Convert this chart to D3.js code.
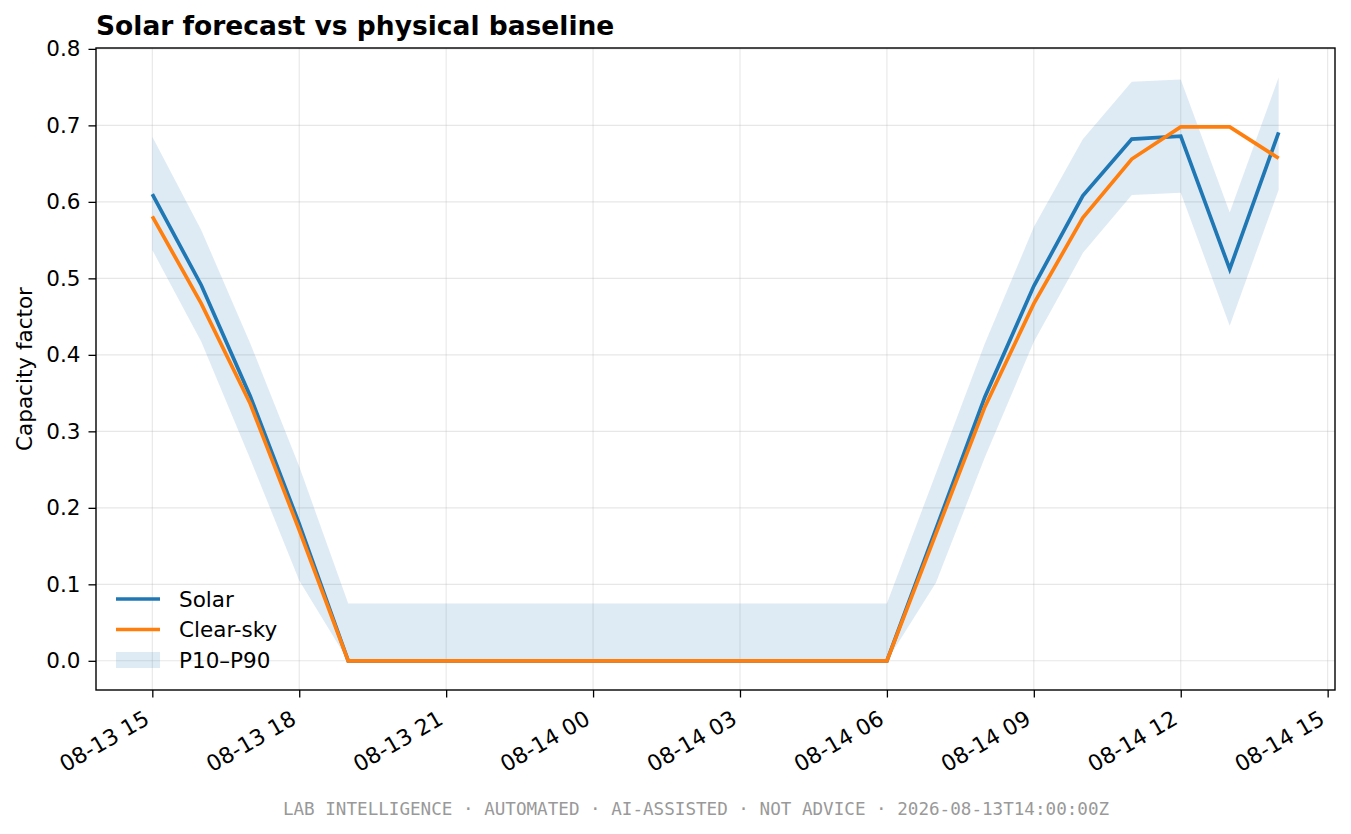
<!DOCTYPE html>
<html>
  <head>
    <meta charset="utf-8">
    <title>Solar forecast vs physical baseline</title>
    <style>
      body {
        margin: 0;
        padding: 0;
        background: #fff;
        font-family: 'DejaVu Sans', sans-serif;
      }
      #chart {
        width: 1351px;
        height: 834px;
      }
    </style>
  </head>
  <body>
    <div id="chart"></div>

    <script src="https://cdnjs.cloudflare.com/ajax/libs/d3/7.8.5/d3.min.js"></script>
    <script>
      // hourly timestamps, 2026-08-13 15:00 to 2026-08-14 14:00 (UTC)
      const hours = [
        "2026-08-13T15:00Z", "2026-08-13T16:00Z", "2026-08-13T17:00Z", "2026-08-13T18:00Z",
        "2026-08-13T19:00Z", "2026-08-13T20:00Z", "2026-08-13T21:00Z", "2026-08-13T22:00Z",
        "2026-08-13T23:00Z", "2026-08-14T00:00Z", "2026-08-14T01:00Z", "2026-08-14T02:00Z",
        "2026-08-14T03:00Z", "2026-08-14T04:00Z", "2026-08-14T05:00Z", "2026-08-14T06:00Z",
        "2026-08-14T07:00Z", "2026-08-14T08:00Z", "2026-08-14T09:00Z", "2026-08-14T10:00Z",
        "2026-08-14T11:00Z", "2026-08-14T12:00Z", "2026-08-14T13:00Z", "2026-08-14T14:00Z"
      ];

      const solar = [
        0.610, 0.491, 0.346, 0.179, 0, 0, 0, 0, 0, 0, 0, 0,
        0, 0, 0, 0, 0.172, 0.345, 0.490, 0.608, 0.682, 0.686, 0.512, 0.691
      ];

      const clearSky = [
        0.581, 0.467, 0.336, 0.171, 0, 0, 0, 0, 0, 0, 0, 0,
        0, 0, 0, 0, 0.166, 0.332, 0.467, 0.579, 0.656, 0.698, 0.698, 0.657
      ];

      const p10 = [
        0.537, 0.417, 0.264, 0.105, 0, 0, 0, 0, 0, 0, 0, 0,
        0, 0, 0, 0, 0.102, 0.266, 0.417, 0.533, 0.609, 0.612, 0.438, 0.616
      ];

      const p90 = [
        0.685, 0.563, 0.415, 0.254, 0.075, 0.075, 0.075, 0.075, 0.075, 0.075, 0.075, 0.075,
        0.075, 0.075, 0.075, 0.075, 0.245, 0.415, 0.567, 0.682, 0.757, 0.760, 0.586, 0.763
      ];

      const yTicks = [0.0, 0.1, 0.2, 0.3, 0.4, 0.5, 0.6, 0.7, 0.8];

      const title = "Solar forecast vs physical baseline";
      const yLabel = "Capacity factor";
      const footer = "LAB INTELLIGENCE · AUTOMATED · AI-ASSISTED · NOT ADVICE · 2026-08-13T14:00:00Z";

      const W = 1351, H = 834;
      const margin = {left: 96, right: 16, top: 48, bottom: 144};
      const fontSize = 21.5;

      const rows = hours.map((h, i) => ({
        t: new Date(h),
        solar: solar[i],
        clear: clearSky[i],
        lo: p10[i],
        hi: p90[i]
      }));

      const svg = d3.select('#chart')
        .append('svg')
        .attr('width', W)
        .attr('height', H);

      // matplotlib-like 5% margins around the data
      const tExt = d3.extent(rows, d => d.t);
      const tPad = (tExt[1] - tExt[0]) * 0.05;
      const x = d3.scaleUtc()
        .domain([new Date(+tExt[0] - tPad), new Date(+tExt[1] + tPad)])
        .range([margin.left, W - margin.right]);

      const yMin = d3.min(rows, d => Math.min(d.lo, d.solar, d.clear));
      const yMax = d3.max(rows, d => Math.max(d.hi, d.solar, d.clear));
      const yPad = (yMax - yMin) * 0.05;
      const y = d3.scaleLinear()
        .domain([yMin - yPad, yMax + yPad])
        .range([H - margin.bottom, margin.top]);

      const xTicks = d3.utcHour.every(3).range(new Date("2026-08-13T15:00Z"), new Date("2026-08-14T15:01Z"));

      // grid
      const grid = svg.append('g').attr('stroke', '#b0b0b0').attr('stroke-opacity', 0.3).attr('stroke-width', 1.1);
      grid.selectAll('.gx').data(xTicks).enter().append('line')
        .attr('x1', d => x(d)).attr('x2', d => x(d))
        .attr('y1', margin.top).attr('y2', H - margin.bottom);
      grid.selectAll('.gy').data(yTicks).enter().append('line')
        .attr('x1', margin.left).attr('x2', W - margin.right)
        .attr('y1', d => y(d)).attr('y2', d => y(d));

      // P10-P90 band
      const area = d3.area()
        .x(d => x(d.t))
        .y0(d => y(d.lo))
        .y1(d => y(d.hi));

      svg.append('path')
        .datum(rows)
        .attr('d', area)
        .attr('fill', '#1f77b4')
        .attr('fill-opacity', 0.15);

      const line = key => d3.line().x(d => x(d.t)).y(d => y(d[key]));

      svg.append('path')
        .datum(rows)
        .attr('d', line('solar'))
        .attr('fill', 'none')
        .attr('stroke', '#1f77b4')
        .attr('stroke-width', 3.7);

      svg.append('path')
        .datum(rows)
        .attr('d', line('clear'))
        .attr('fill', 'none')
        .attr('stroke', '#ff7f0e')
        .attr('stroke-width', 3.7);

      // axes
      const xAxis = svg.append('g')
        .attr('transform', `translate(0,${H - margin.bottom})`)
        .call(d3.axisBottom(x).tickValues(xTicks).tickFormat(d3.utcFormat('%m-%d %H')).tickSizeOuter(0).tickSize(7.5));
      xAxis.select('.domain').remove();
      xAxis.selectAll('line').attr('stroke', '#000').attr('stroke-width', 1.3);
      xAxis.selectAll('text')
        .attr('font-family', 'DejaVu Sans')
        .attr('font-size', 22)
        .attr('fill', '#000')
        .attr('text-anchor', 'end')
        .attr('x', 0).attr('y', 0).attr('dy', 0)
        .attr('transform', 'translate(-2,33) rotate(-30)');

      const yAxis = svg.append('g')
        .attr('transform', `translate(${margin.left},0)`)
        .call(d3.axisLeft(y).tickValues(yTicks).tickFormat(d3.format('.1f')).tickSizeOuter(0).tickSize(7.5).tickPadding(8));
      yAxis.select('.domain').remove();
      yAxis.selectAll('line').attr('stroke', '#000').attr('stroke-width', 1.3);
      yAxis.selectAll('text')
        .attr('font-family', 'DejaVu Sans')
        .attr('font-size', fontSize)
        .attr('fill', '#000');

      // frame
      svg.append('rect')
        .attr('x', margin.left).attr('y', margin.top)
        .attr('width', W - margin.left - margin.right)
        .attr('height', H - margin.top - margin.bottom)
        .attr('fill', 'none')
        .attr('stroke', '#000')
        .attr('stroke-width', 1.4);

      // title
      svg.append('text')
        .attr('x', margin.left)
        .attr('y', 35)
        .attr('font-family', 'DejaVu Sans')
        .attr('font-weight', 'bold')
        .attr('font-size', 26.5)
        .attr('fill', '#000')
        .text(title);

      // y label
      svg.append('text')
        .attr('transform', `translate(32,${(margin.top + H - margin.bottom) / 2}) rotate(-90)`)
        .attr('text-anchor', 'middle')
        .attr('font-family', 'DejaVu Sans')
        .attr('font-size', fontSize)
        .attr('fill', '#000')
        .text(yLabel);

      // legend
      const legendItems = [
        {label: 'Solar', kind: 'line', color: '#1f77b4'},
        {label: 'Clear-sky', kind: 'line', color: '#ff7f0e'},
        {label: 'P10–P90', kind: 'patch', color: '#1f77b4'}
      ];
      const legend = svg.append('g').attr('transform', 'translate(116,599)');
      legendItems.forEach((item, i) => {
        const g = legend.append('g').attr('transform', `translate(0,${i * 30.5})`);
        if (item.kind === 'line') {
          g.append('line').attr('x1', 0).attr('x2', 44).attr('y1', 0).attr('y2', 0)
            .attr('stroke', item.color).attr('stroke-width', 3.7);
        } else {
          g.append('rect').attr('x', 0).attr('y', -8).attr('width', 44).attr('height', 16)
            .attr('fill', item.color).attr('fill-opacity', 0.15);
        }
        g.append('text')
          .attr('x', 63).attr('y', 0).attr('dy', '0.36em')
          .attr('font-family', 'DejaVu Sans')
          .attr('font-size', fontSize)
          .attr('fill', '#000')
          .text(item.label);
      });

      // footer
      svg.append('text')
        .attr('x', 696)
        .attr('y', 815)
        .attr('text-anchor', 'middle')
        .attr('font-family', 'DejaVu Sans Mono')
        .attr('font-size', 17.6)
        .attr('fill', '#999')
        .text(footer);
    </script>
  </body>
</html>
